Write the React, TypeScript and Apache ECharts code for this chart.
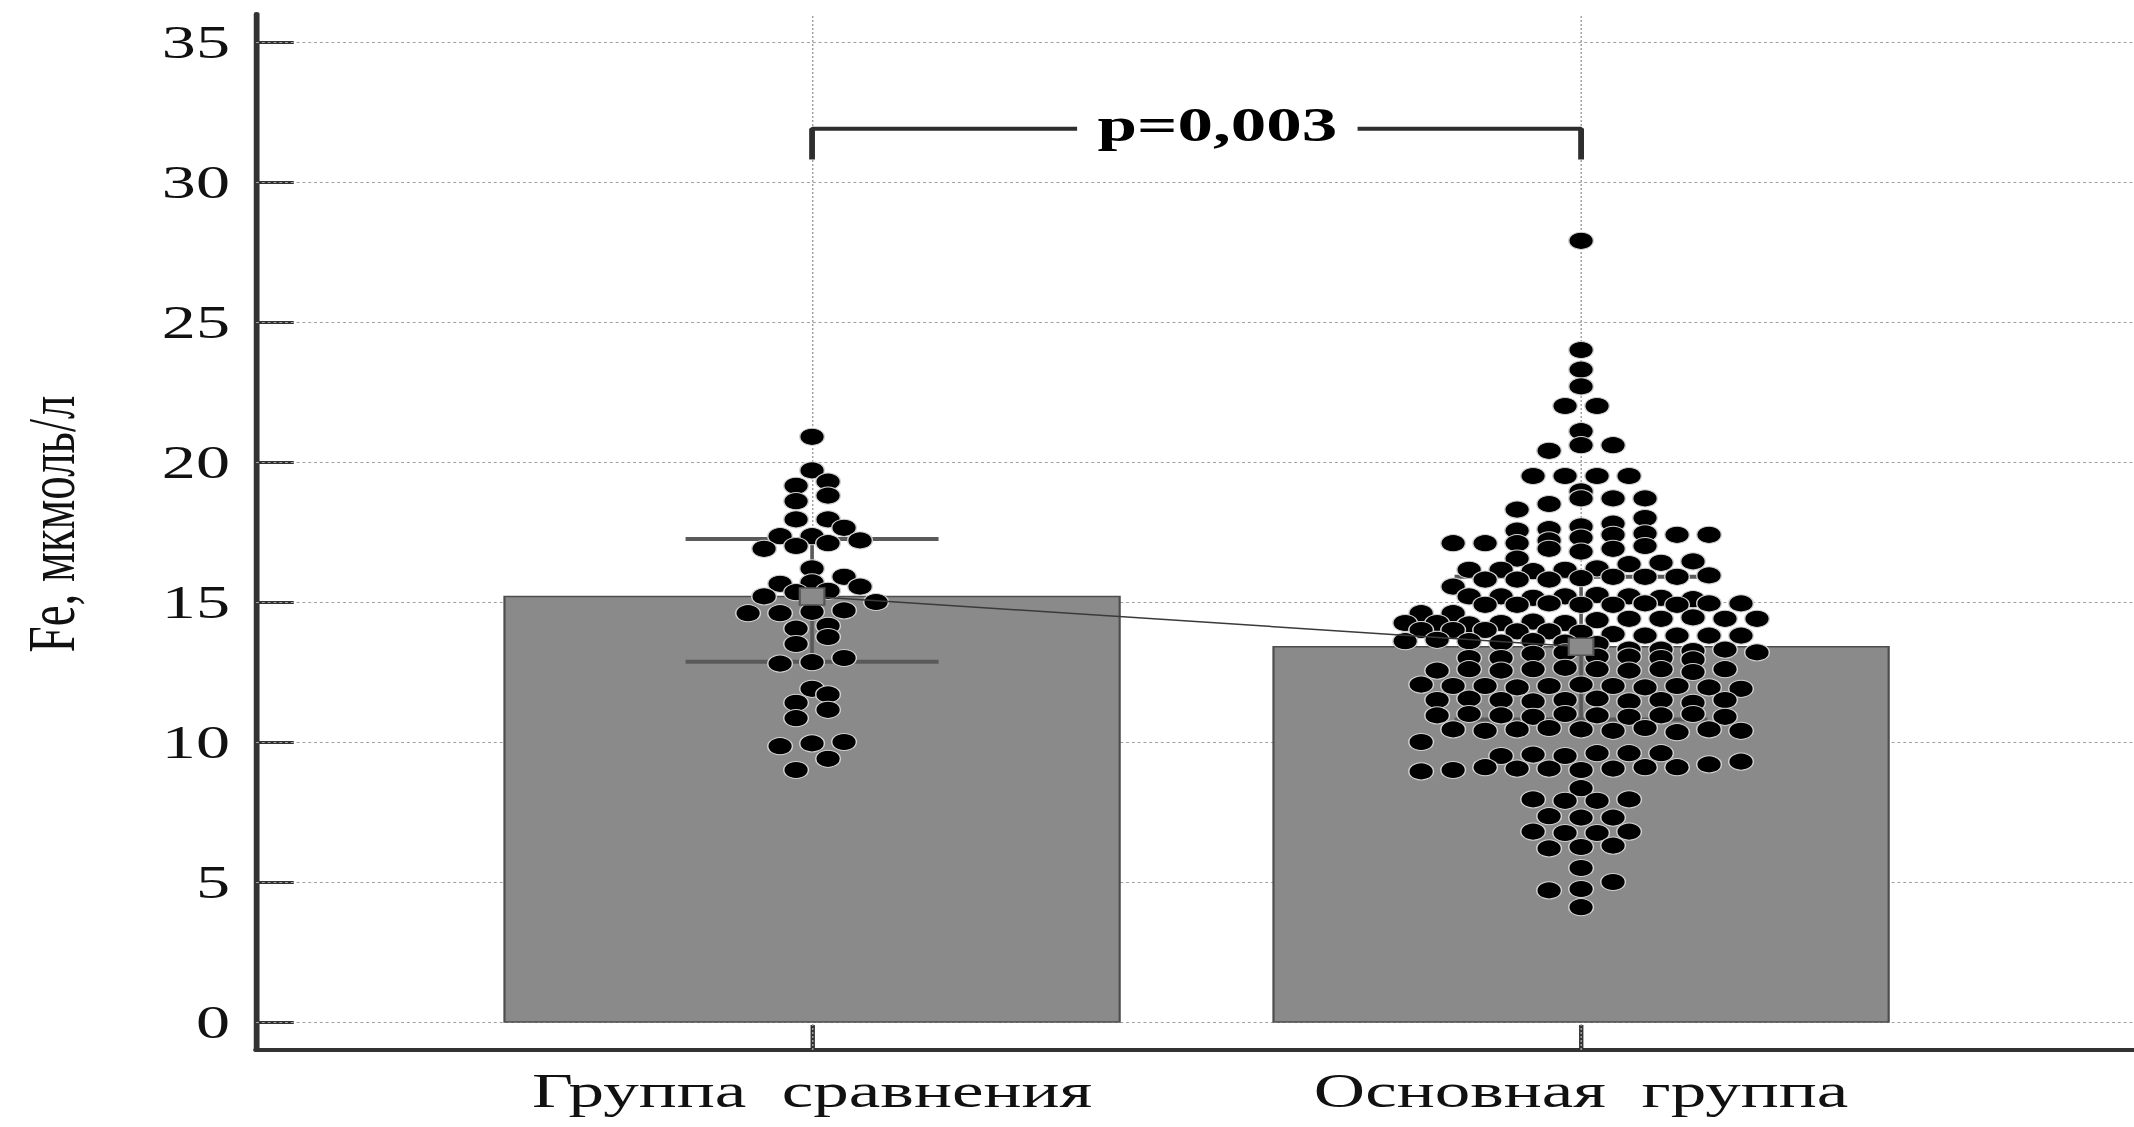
import React, { useEffect, useRef } from 'react';
import * as echarts from 'echarts';

// ---------- data ----------
const categories = ['Группа  сравнения', 'Основная  группа'];

// Individual values, grouped into the horizontal rows of the dot plot (top to bottom)
const groupComparisonRows = [
  [20.9],
  [19.7],
  [19.15, 19.3],
  [18.6, 18.8],
  [17.95, 17.95],
  [17.35, 17.35, 17.65],
  [16.9, 17.0, 17.1, 17.2],
  [16.2],
  [15.65, 15.7, 15.9],
  [15.2, 15.35, 15.4, 15.55],
  [14.6, 14.6, 14.65, 14.7, 15.0],
  [14.05, 14.15],
  [13.5, 13.75],
  [12.8, 12.85, 13.0],
  [11.9],
  [11.4, 11.7],
  [10.85, 11.15],
  [9.85, 9.95, 10.0],
  [9.0, 9.4],
];

const groupMainRows = [
  [27.9],
  [24.0],
  [23.3],
  [22.7],
  [22.0, 22.0],
  [21.1],
  [20.4, 20.6, 20.6],
  [19.5, 19.5, 19.5, 19.5],
  [18.95],
  [18.3, 18.5, 18.7, 18.7, 18.7],
  [17.55, 17.6, 17.7, 17.8, 18.0],
  [17.1, 17.1, 17.1, 17.2, 17.3, 17.4, 17.45, 17.4, 17.4],
  [16.55, 16.9, 16.8, 16.9, 17.0],
  [16.15, 16.15, 16.1, 16.15, 16.2, 16.35, 16.4, 16.45],
  [15.55, 15.8, 15.8, 15.8, 15.85, 15.9, 15.9, 15.9, 15.95],
  [15.2, 15.2, 15.15, 15.2, 15.25, 15.2, 15.15, 15.1],
  [14.6, 14.6, 14.9, 14.9, 14.95, 14.9, 14.9, 14.95, 14.9, 14.95, 14.95],
  [14.25, 14.25, 14.2, 14.25, 14.3, 14.25, 14.35, 14.4, 14.4, 14.45, 14.4, 14.4],
  [14.0, 14.0, 14.0, 13.95, 13.95, 13.9, 13.85, 13.8, 13.8, 13.8, 13.8],
  [13.6, 13.65, 13.6, 13.55, 13.6, 13.55, 13.5, 13.3, 13.3, 13.25, 13.3, 13.2],
  [13.0, 13.0, 13.15, 13.2, 13.05, 13.05, 13.0, 12.95],
  [12.55, 12.6, 12.55, 12.6, 12.65, 12.6, 12.55, 12.6, 12.5, 12.6],
  [12.05, 12.0, 12.0, 11.95, 12.0, 12.05, 12.0, 11.95, 12.0, 11.95, 11.9],
  [11.5, 11.55, 11.5, 11.45, 11.5, 11.55, 11.45, 11.5, 11.4, 11.5],
  [10.95, 11.0, 10.95, 10.9, 11.0, 10.95, 10.9, 10.95, 11.0, 10.9],
  [10.0, 10.45, 10.4, 10.45, 10.5, 10.45, 10.4, 10.5, 10.35, 10.45, 10.4],
  [9.5, 9.55, 9.5, 9.6, 9.6, 9.6],
  [8.95, 9.0, 9.1, 9.05, 9.05, 9.0, 9.05, 9.1, 9.1, 9.2, 9.3],
  [8.35],
  [7.95, 7.9, 7.9, 7.95],
  [7.35, 7.3, 7.3],
  [6.8, 6.75, 6.75, 6.8],
  [6.2, 6.25, 6.3],
  [5.5],
  [4.7, 4.75, 5.0],
  [4.1],
];

const means = [15.2, 13.4];
const sdLow = [12.87, 10.8];
const sdHigh = [17.25, 15.9];
const yTicks = [0, 5, 10, 15, 20, 25, 30, 35];
const xTicks = [1, 2];
const pLabel = 'p=0,003';
const bracketTop = 31.9;
const bracketFoot = 30.8;
const pLabelPos = [1.527, 32.05];

// ---------- layout / style ----------
const OUT_W = 2134;
const OUT_H = 1127;
const STRETCH = 1.45;
const CW = OUT_W / STRETCH;
const X_MIN = 0.277;
const X_MAX = 2.719;
const Y_MIN = -1;
const Y_MAX = 36;
const BAR_HALF = 0.4;
const ERR_HALF = 0.1645;
const DOT = 17;
const STEP = 11.03; // horizontal half-spacing of dots, px before stretch
const FONT = '"Liberation Serif", "Times New Roman", serif';
const AXIS_COLOR = '#333333';

type Pt = number[];

function dotRows(rows: number[][], cx: number, xPer: number): Pt[] {
  const out: Pt[] = [];
  rows.forEach((row) => {
    const n = row.length;
    row.forEach((v, j) => {
      const k = 2 * j - (n - 1);
      out.push([cx + (k * STEP) / xPer, v]);
    });
  });
  return out;
}

function buildOption(dotsA: Pt[], dotsB: Pt[]): any {
  const dotStyle = { color: '#000000', borderColor: '#d2d2d2', borderWidth: 1, opacity: 1 };
  return {
    animation: false,
    backgroundColor: '#ffffff',
    grid: { left: 176.6, right: 0, top: 14, bottom: 77, containLabel: false },
    xAxis: {
      type: 'value',
      min: X_MIN,
      max: X_MAX,
      axisLine: { onZero: false, lineStyle: { color: AXIS_COLOR, width: 4 } },
      axisTick: { inside: true, length: 25, customValues: xTicks, lineStyle: { color: AXIS_COLOR, width: 3 } },
      axisLabel: {
        customValues: xTicks,
        formatter: (v: number) => categories[Math.round(v) - 1] ?? '',
        margin: 16,
        fontFamily: FONT,
        fontSize: 49,
        color: '#111111',
      },
      splitLine: { show: false },
    },
    yAxis: {
      type: 'value',
      min: Y_MIN,
      max: Y_MAX,
      name: 'Fe, мкмоль/л',
      nameLocation: 'middle',
      nameGap: 118,
      nameTextStyle: { fontFamily: FONT, fontSize: 47, color: '#111111', padding: [0, 0, 0, 16] },
      axisLine: { onZero: false, lineStyle: { color: AXIS_COLOR, width: 4 } },
      axisTick: { inside: true, length: 26, customValues: yTicks, lineStyle: { color: AXIS_COLOR, width: 3 } },
      axisLabel: { customValues: yTicks, margin: 18, fontFamily: FONT, fontSize: 47, color: '#111111' },
      splitLine: { show: false },
    },
    series: [
      {
        id: 'grid-lines',
        type: 'line',
        data: [],
        z: 1,
        silent: true,
        markLine: {
          z: 1,
          silent: true,
          symbol: 'none',
          label: { show: false },
          lineStyle: { color: '#a0a0a0', type: [2, 2], width: 1 },
          data: [...yTicks.map((v) => ({ yAxis: v })), ...xTicks.map((v) => ({ xAxis: v }))],
        },
      },
      {
        id: 'bars',
        type: 'custom',
        z: 2,
        data: means.map((m, i) => [i + 1, m]),
        renderItem: (_p: any, api: any) => {
          const x = api.value(0);
          const v = api.value(1);
          const a = api.coord([x - BAR_HALF, v]);
          const b = api.coord([x + BAR_HALF, 0]);
          return {
            type: 'rect',
            shape: { x: a[0], y: a[1], width: b[0] - a[0], height: b[1] - a[1] },
            style: { fill: '#8a8a8a', stroke: '#4d4d4d', lineWidth: 1.5 },
          };
        },
      },
      {
        id: 'errors',
        type: 'custom',
        z: 3,
        data: means.map((_m, i) => [i + 1, sdLow[i], sdHigh[i]]),
        renderItem: (_p: any, api: any) => {
          const x = api.value(0);
          const lo = api.value(1);
          const hi = api.value(2);
          const h1 = api.coord([x - ERR_HALF, hi]);
          const h2 = api.coord([x + ERR_HALF, hi]);
          const l1 = api.coord([x - ERR_HALF, lo]);
          const l2 = api.coord([x + ERR_HALF, lo]);
          const st = { stroke: '#5a5a5a', lineWidth: 4 };
          return {
            type: 'group',
            children: [
              { type: 'line', shape: { x1: h1[0], y1: h1[1], x2: h2[0], y2: h2[1] }, style: st },
              { type: 'line', shape: { x1: l1[0], y1: l1[1], x2: l2[0], y2: l2[1] }, style: st },
              {
                type: 'line',
                shape: { x1: (h1[0] + h2[0]) / 2, y1: h1[1], x2: (l1[0] + l2[0]) / 2, y2: l1[1] },
                style: { stroke: '#5a5a5a', lineWidth: 2.5 },
              },
            ],
          };
        },
      },
      {
        id: 'dots-a',
        type: 'scatter',
        z: 4,
        symbol: 'circle',
        symbolSize: DOT,
        itemStyle: dotStyle,
        data: dotsA,
      },
      {
        id: 'dots-b',
        type: 'scatter',
        z: 4,
        symbol: 'circle',
        symbolSize: DOT,
        itemStyle: dotStyle,
        data: dotsB,
      },
      {
        id: 'means',
        type: 'line',
        z: 5,
        data: means.map((m, i) => [i + 1, m]),
        symbol: 'rect',
        symbolSize: 17,
        showSymbol: true,
        lineStyle: { color: '#3a3a3a', width: 1.5 },
        itemStyle: { color: '#8a8a8a', borderColor: '#555555', borderWidth: 1.5, opacity: 1 },
      },
      {
        id: 'bracket',
        type: 'line',
        z: 6,
        symbol: 'none',
        data: [
          [1, bracketFoot],
          [1, bracketTop],
          [2, bracketTop],
          [2, bracketFoot],
        ],
        lineStyle: { color: '#2e2e2e', width: 4 },
      },
      {
        id: 'p-label',
        type: 'scatter',
        z: 7,
        symbolSize: 0,
        itemStyle: { color: 'rgba(0,0,0,0)', opacity: 1 },
        data: [pLabelPos],
        label: {
          show: true,
          position: 'inside',
          formatter: pLabel,
          fontFamily: FONT,
          fontWeight: 'bold',
          fontSize: 49,
          color: '#000000',
          opacity: 1,
          backgroundColor: '#ffffff',
          padding: [0, 14],
        },
      },
    ],
  };
}

export default function App() {
  const ref = useRef<HTMLDivElement>(null);
  useEffect(() => {
    if (!ref.current) return;
    const chart = echarts.init(ref.current, undefined, { renderer: 'svg', width: CW, height: OUT_H });
    chart.setOption(buildOption([], []));
    const p1 = chart.convertToPixel({ gridIndex: 0 }, [1, 0]) as number[];
    const p2 = chart.convertToPixel({ gridIndex: 0 }, [2, 0]) as number[];
    const xPer = p2[0] - p1[0];
    const dotsA = dotRows(groupComparisonRows, 1, xPer);
    const dotsB = dotRows(groupMainRows, 2, xPer);
    chart.setOption(buildOption(dotsA, dotsB), true);
    return () => chart.dispose();
  }, []);
  return (
    <div
      style={{
        position: 'absolute',
        left: 0,
        top: 0,
        width: OUT_W,
        height: OUT_H,
        overflow: 'hidden',
        background: '#ffffff',
      }}
    >
      <div
        ref={ref}
        style={{ width: CW, height: OUT_H, transform: `scaleX(${STRETCH})`, transformOrigin: '0 0' }}
      />
    </div>
  );
}
